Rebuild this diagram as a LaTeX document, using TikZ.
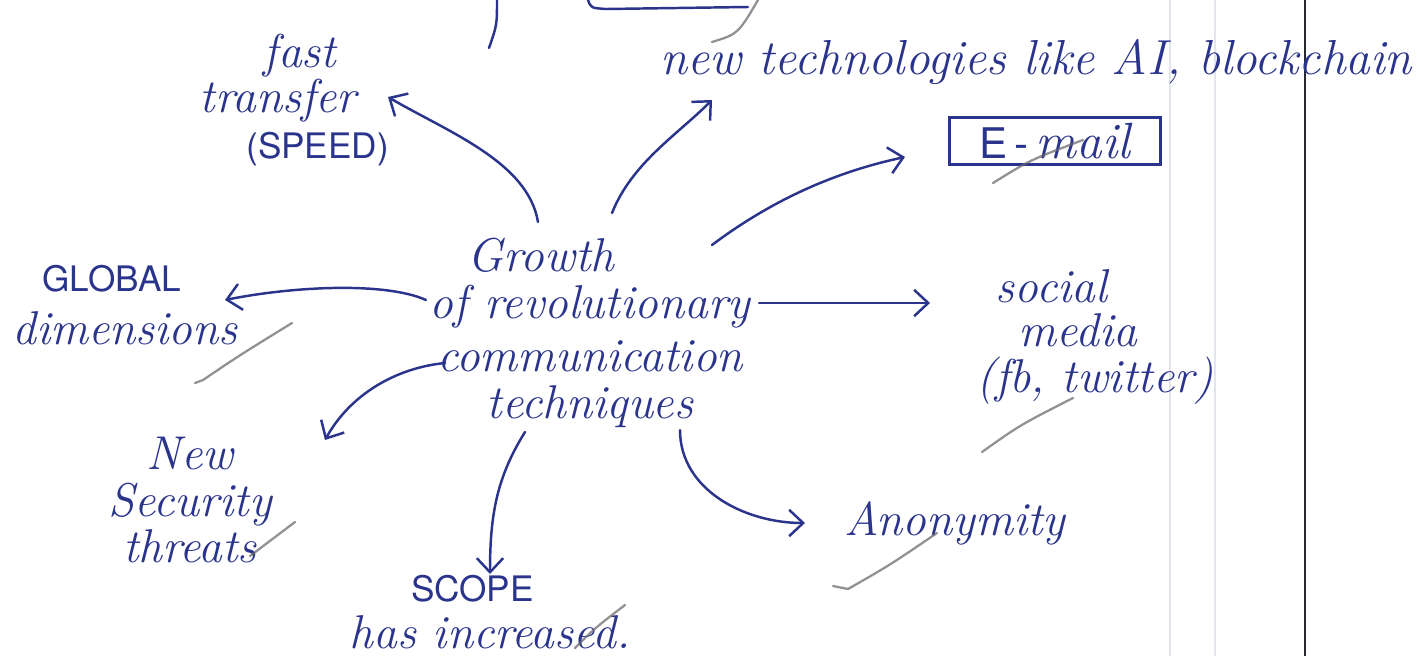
\documentclass[tikz,border=0pt]{standalone}
\usepackage{fontspec}
\newfontfamily\printfont{TeX Gyre Heros}
\usetikzlibrary{arrows.meta}
\definecolor{ink}{RGB}{42,52,140}
\definecolor{pencil}{RGB}{100,100,105}
\definecolor{margin}{RGB}{40,40,50}
\definecolor{faint}{RGB}{226,229,236}

\newcommand{\caps}[1]{{\printfont\upshape\fontsize{20}{20}\selectfont #1}}

\tikzset{
  script/.style={text=ink, font=\fontsize{27}{30}\selectfont\itshape, inner sep=0pt, align=center},
  link/.style={draw=ink, line width=1.4pt, line cap=round,
    -{Straight Barb[length=8pt,width=15pt,line width=1.4pt]}},
  tick/.style={draw=pencil, line width=1.3pt, line cap=round, opacity=0.7},
  stroke/.style={draw=ink, line width=1.4pt, line cap=round},
}

\begin{document}
\begin{tikzpicture}[x=0.02cm,y=-0.02cm]
\useasboundingbox (0,0) rectangle (1420,656);
\fill[white] (0,0) rectangle (1420,656);

% ruled paper: faint guide lines and the dark margin rule
\draw[faint, line width=1pt] (1170,0) -- (1170,656);
\draw[faint, line width=1pt] (1215,0) -- (1215,656);
\draw[margin, line width=1.6pt] (1305,0) -- (1305,656);

% strokes left over from the notes above
\draw[stroke] (497,0) .. controls (497,25) .. (489,48);
\draw[stroke] (588,0) .. controls (591,8) .. (606,9) -- (748,7);
\draw[tick] (712,42) .. controls (738,34) .. (758,0);

% central idea
\node[script] (hub) at (590,333)
  {\hspace*{-56pt}Growth\\[-3pt]
   of revolutionary\\
   communication\\[-3pt]
   techniques};

% branches
\node[script] (fast) at (300,100)
  {fast\\[-4pt]\hspace*{-25pt}transfer\\[-4pt]\hspace*{20pt}\caps{(SPEED)}};

\node[script, anchor=west, font=\fontsize{28}{30}\selectfont\itshape]
  (tech) at (660,62) {new technologies like AI, blockchain};

\node[draw=ink, line width=1.4pt, inner sep=0pt, minimum width=120pt, minimum height=26.6pt,
      text=ink] (mail) at (1055,141)
  {{\printfont\fontsize{24}{24}\selectfont E\,-\,}{\fontsize{29}{30}\selectfont\itshape mail}};

\node[script] (glob) at (125,305)
  {\hspace*{-15pt}\caps{GLOBAL}\\[0pt]dimensions};

\node[script] (soc) at (1085,337)
  {\hspace*{-38pt}social\\[-5pt]\hspace*{-8pt}media\\[-4pt]\hspace*{11pt}(fb, twitter)};

\node[script] (sec) at (190,500)
  {New\\[-3pt]Security\\[-4pt]threats};

\node[script] (scope) at (490,612)
  {\hspace*{-20pt}\caps{SCOPE}\\[-3pt]has increased.};

\node[script] (anon) at (955,523) {Anonymity};

% connectors from the central idea
\draw[link] ([shift={(-52,-111)}]hub.center) .. controls +(-10,-60) and +(60,35) ..
            ([shift={(88,-3)}]fast.center);
\draw[link] ([shift={(22,-120)}]hub.center) .. controls +(20,-50) and +(-35,35) ..
            ([shift={(52,38)}]tech.west);
\draw[link] ([shift={(122,-88)}]hub.center) .. controls +(60,-45) and +(-70,15) ..
            ([shift={(-150,16)}]mail.center);
\draw[link] ([shift={(-164,-33)}]hub.center) .. controls +(-40,-18) and +(70,-14) ..
            ([shift={(100,-5)}]glob.center);
\draw[link] ([shift={(169,-30)}]hub.center) -- ([shift={(-155,-34)}]soc.center);
\draw[link] ([shift={(-145,30)}]hub.center) .. controls +(-50,5) and +(25,-45) ..
            ([shift={(135,-60)}]sec.center);
\draw[link] ([shift={(-65,99)}]hub.center) .. controls +(-28,45) and +(0,-60) ..
            ([shift={(0,-38)}]scope.center);
\draw[link] ([shift={(90,97)}]hub.center) .. controls +(0,60) and +(-60,0) ..
            ([shift={(-150,0)}]anon.center);

% pencil check marks
\draw[tick] (195,383) -- (203,380) .. controls (240,355) .. (292,323);
\draw[tick] (250,556) -- (295,522);
\draw[tick] (993,183) .. controls (1030,160) .. (1083,140);
\draw[tick] (982,452) .. controls (1020,425) .. (1073,398);
\draw[tick] (833,586) -- (848,589) .. controls (890,565) .. (937,533);
\draw[tick] (575,648) .. controls (595,628) .. (625,605);
\end{tikzpicture}
\end{document}
